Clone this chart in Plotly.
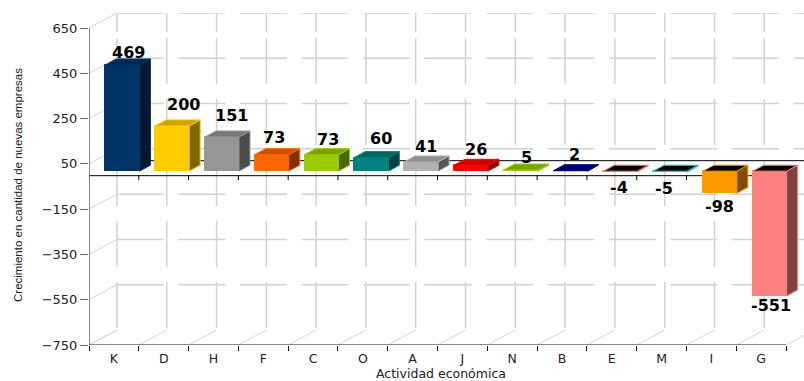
import plotly.graph_objects as go

categories = ["K", "D", "H", "F", "C", "O", "A", "J", "N", "B", "E", "M", "I", "G"]
values = [469, 200, 151, 73, 73, 60, 41, 26, 5, 2, -4, -5, -98, -551]
colors = ["#003366", "#FFCC00", "#969696", "#FF6600", "#99CC00", "#008080", "#B2B2B2",
          "#FF0000", "#99CC00", "#000080", "#FF8080", "#33CCCC", "#FF9900", "#FF8080"]
y_ticks = [650, 450, 250, 50, -150, -350, -550, -750]
y_title = "Crecimiento en cantidad de nuevas empresas"
x_title = "Actividad económica"

# label nudges (px) relative to the bar's category centre / value
label_dx = [15, 20, 18, 11, 15, 18, 13, 14, 14, 12, 7, 2, 8, 10]
label_dy = [16, 25, 25, 21, 19, 23, 19, 20, 17, 20, -11, -12, -9, -6]

# geometry
L, B, T = 89, 345, 13
CAT_PX = 49.79
Y_PX = 317 / 1400
WIDTH, HEIGHT = 804, 381
def px_x(p): return p / CAT_PX
def px_y(p): return p / Y_PX

x_lo = -0.5
x_hi = x_lo + px_x(WIDTH - L)
x_end = x_lo + len(categories)
y_lo = -750
y_hi = y_lo + px_y(B - T)
y_top_tick = 650

WALL_X, WALL_Y = px_x(28), px_y(15)
DEPTH_X, DEPTH_Y = px_x(11), px_y(6)
BASE = px_y(4)
BAR_W = px_x(34)
BAR_OFF = px_x(8.5) - BAR_W / 2
NUDGE = px_y(0.5)

GRID = "#d2d2d2"
AXIS = "#666666"
H_DASH = "47px,14.5px"
V_DASH = "19px,6px,46px,15px,46px,15px,46px,15px,46px,15px,46px,15px"


def shade(hex_col, f):
    r, g, b = (int(hex_col[i:i + 2], 16) for i in (1, 3, 5))
    return f"rgb({int(r * f)},{int(g * f)},{int(b * f)})"


shapes = []
def seg(x0, y0, x1, y1, color=GRID, width=1, dash=None):
    shapes.append(dict(type="line", xref="x", yref="y", x0=x0, y0=y0, x1=x1, y1=y1,
                       layer="below", line=dict(color=color, width=width, dash=dash)))

# back wall horizontals + left wall diagonals
for t in y_ticks:
    if t != -750:
        seg(x_lo + WALL_X, t + WALL_Y, x_hi, t + WALL_Y, dash=H_DASH, width=1.5)
    seg(x_lo, t, x_lo + WALL_X, t + WALL_Y)
# back wall verticals + floor diagonals
for i in range(len(categories) + 1):
    bx = x_lo + i
    seg(bx + WALL_X, y_top_tick + WALL_Y, bx + WALL_X, y_lo + WALL_Y, dash=V_DASH, width=1.5)
    seg(bx, y_lo, bx + WALL_X, y_lo + WALL_Y)
    seg(bx, 0, bx, -px_y(5), color="#000000")
# zero planes and axes
seg(x_lo + WALL_X, WALL_Y - NUDGE, x_hi, WALL_Y - NUDGE, color="#000000")
seg(x_lo, -NUDGE, x_end, -NUDGE, color="#000000")
seg(x_lo, y_lo, x_lo, y_top_tick, color=AXIS, width=1.5)
seg(x_lo, y_lo, x_end, y_lo, color=AXIS, width=1.5)

fig = go.Figure()
fig.add_trace(go.Bar(
    x=list(range(len(categories))), y=values, base=[BASE] * len(values),
    width=BAR_W, offset=BAR_OFF,
    marker=dict(color=colors, line=dict(color=colors, width=1)),
    showlegend=False, hoverinfo="skip",
))

for i, (v, c) in enumerate(zip(values, colors)):
    x0 = i + BAR_OFF
    x1 = x0 + BAR_W
    y_front = v + BASE
    lid = max(y_front, BASE)
    side_col = shade(c, 0.5)
    top_col = "#000000" if v < 0 else shade(c, 0.8)
    fig.add_trace(go.Scatter(
        x=[x1, x1 + DEPTH_X, x1 + DEPTH_X, x1, x1],
        y=[BASE, BASE + DEPTH_Y, y_front + DEPTH_Y, y_front, BASE],
        mode="lines", fill="toself", fillcolor=side_col,
        line=dict(color=c, width=1), showlegend=False, hoverinfo="skip",
    ))
    fig.add_trace(go.Scatter(
        x=[x0, x1, x1 + DEPTH_X, x0 + DEPTH_X, x0],
        y=[lid, lid, lid + DEPTH_Y, lid + DEPTH_Y, lid],
        mode="lines", fill="toself", fillcolor=top_col,
        line=dict(color=c, width=1), showlegend=False, hoverinfo="skip",
    ))

annotations = [
    dict(x=i, y=v, xref="x", yref="y", text=str(v), showarrow=False,
         xshift=dx, yshift=dy,
         font=dict(family="DejaVu Sans", size=16, color="#000000", weight="bold"))
    for i, (v, dx, dy) in enumerate(zip(values, label_dx, label_dy))
]
plot_w, plot_h = WIDTH - L, B - T
annotations.append(dict(x=(441 - L) / plot_w, y=(B - 373) / plot_h, xref="paper", yref="paper",
                        text=x_title, showarrow=False, yanchor="middle",
                        font=dict(family="DejaVu Sans", size=12.5, color="#222222")))
annotations.append(dict(x=(18 - L) / plot_w, y=(B - 185) / plot_h, xref="paper", yref="paper",
                        text=y_title, showarrow=False, textangle=-90,
                        xanchor="center", yanchor="middle",
                        font=dict(family="Liberation Sans", size=11.5, color="#222222")))

tick_font = dict(family="DejaVu Sans", size=13, color="#222222")
x_tick_font = dict(family="DejaVu Sans", size=12.5, color="#222222")
fig.update_layout(
    width=WIDTH, height=HEIGHT, autosize=False,
    paper_bgcolor="white", plot_bgcolor="white",
    margin=dict(l=L, r=0, t=T, b=HEIGHT - B, pad=0),
    shapes=shapes, annotations=annotations, bargap=0,
    xaxis=dict(range=[x_lo, x_hi], tickmode="array",
               tickvals=list(range(len(categories))), ticktext=categories,
               showgrid=False, zeroline=False, showline=False, ticks="",
               ticklabelstandoff=4,
               minor=dict(tickmode="array", tickvals=[x_lo + i for i in range(len(categories) + 1)],
                          ticks="outside", ticklen=5, tickcolor="#000000", tickwidth=1, showgrid=False),
               tickfont=x_tick_font),
    yaxis=dict(range=[y_lo, y_hi], tickmode="array", tickvals=y_ticks,
               showgrid=False, zeroline=False, showline=False,
               ticks="outside", ticklen=8, tickcolor=AXIS, tickwidth=1,
               tickfont=tick_font),
)

fig.write_html("out.html", config=dict(displayModeBar=False),
               post_script="document.body.style.margin='0';")
